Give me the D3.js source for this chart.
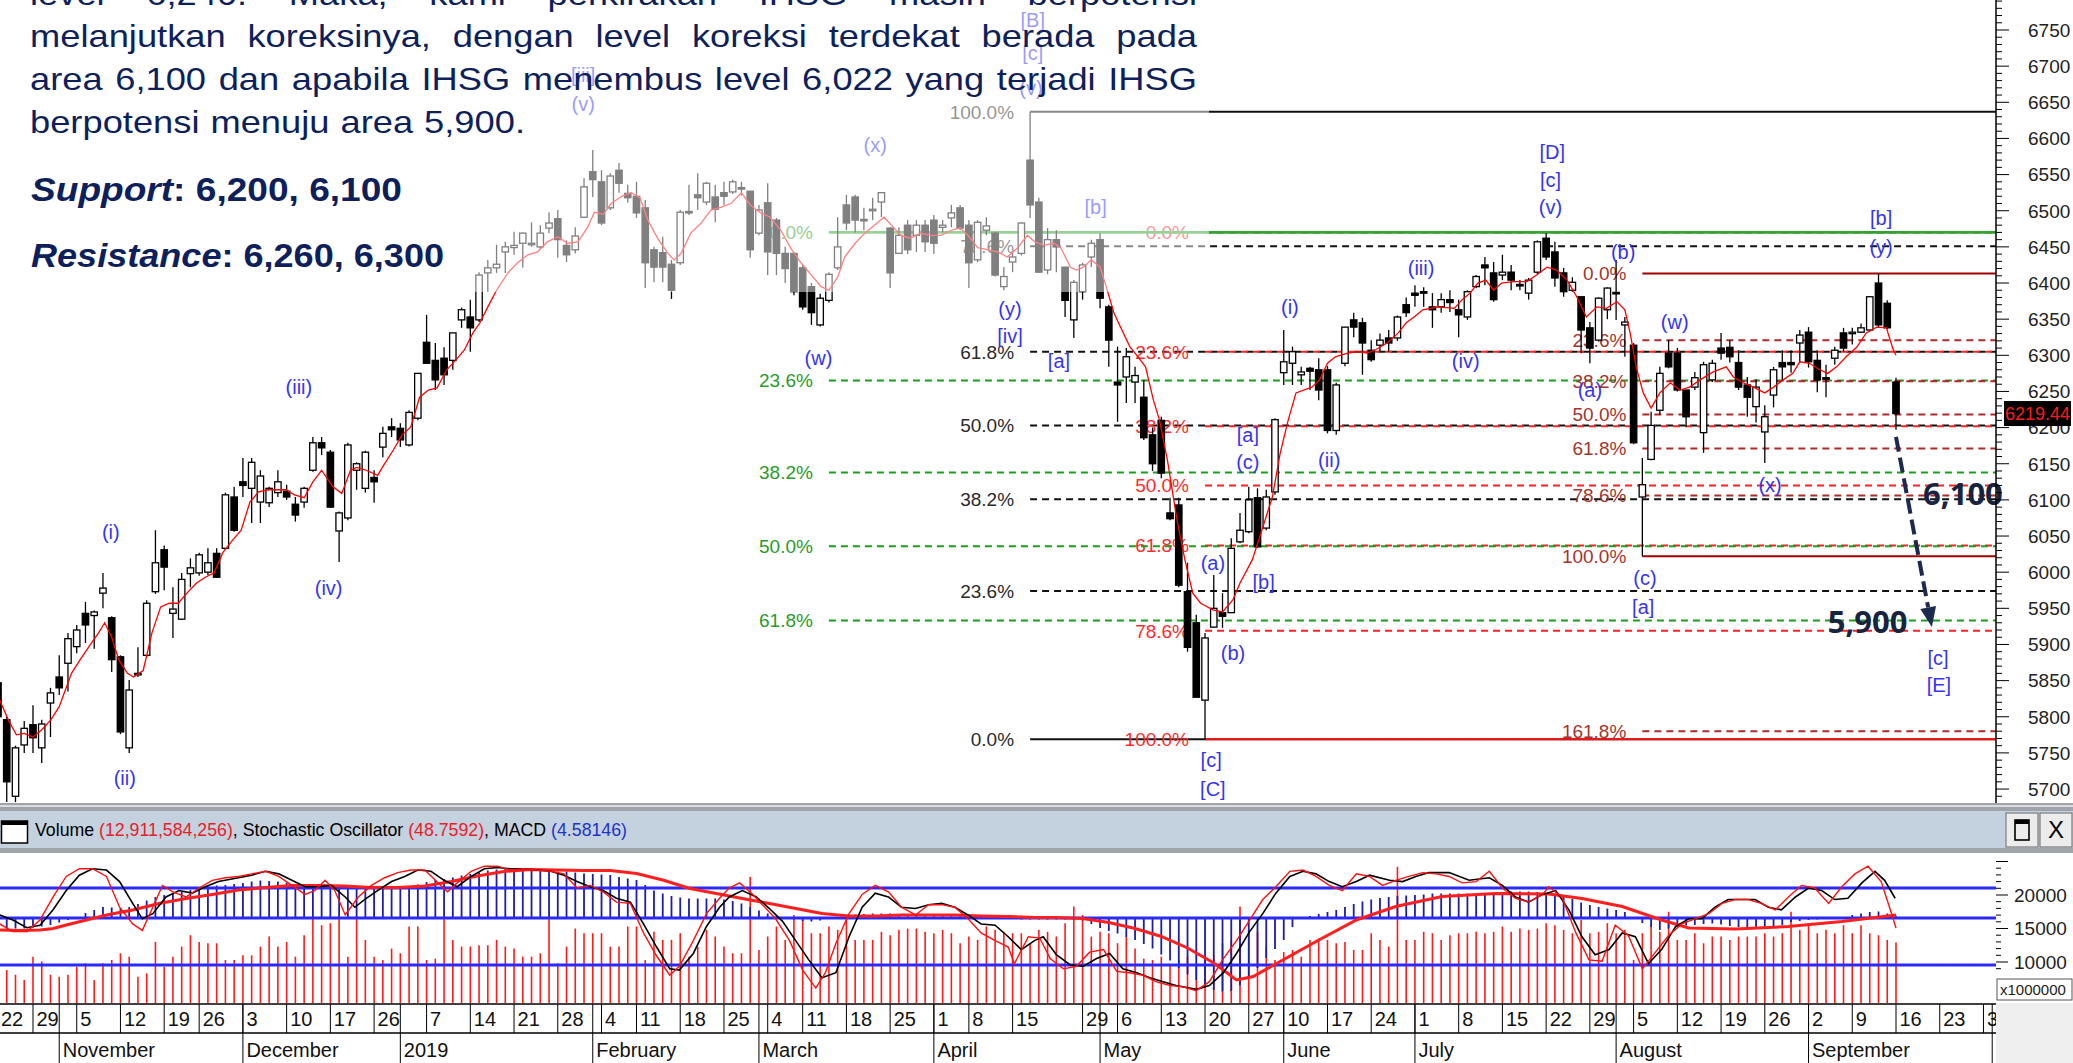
<!DOCTYPE html>
<html>
<head>
<meta charset="utf-8">
<script src="https://cdn.jsdelivr.net/npm/d3@7"></script>
<style>
  body { margin: 0; background: #fff; }
  svg { display: block; }
  text { font-family: "Liberation Sans", Arial, sans-serif; }
</style>
</head>
<body>
<svg id="chart"></svg>
<script>
// ---------- data ----------
// daily candles [open, high, low, close], 23 Oct 2018 .. 16 Sep 2019
const ohlc = [
[5847,5852,5790,5800],[5796,5800,5682,5710],[5690,5760,5682,5757],[5761,5794,5750,5784],[5789,5816,5750,5771],
[5757,5796,5736,5790],[5819,5840,5772,5833],[5855,5885,5830,5840],[5874,5916,5835,5908],[5897,5927,5888,5920],
[5943,5959,5902,5927],[5940,5947,5894,5945],[5971,5999,5950,5978],[5937,5939,5862,5879],[5883,5885,5776,5779],
[5757,5851,5750,5837],[5858,5896,5855,5860],[5885,5961,5883,5957],[5973,6058,5970,6013],[6031,6037,5975,6007],
[5943,5979,5909,5949],[5935,5999,5934,5990],[5998,6019,5979,6006],[5999,6027,5995,6024],[6000,6033,5996,6013],
[6026,6033,5992,5993],[6033,6110,6031,6107],[6104,6118,6056,6058],[6125,6158,6104,6120],[6116,6158,6068,6152],
[6097,6141,6068,6133],[6096,6118,6090,6116],[6110,6141,6104,6125],[6112,6121,6100,6104],[6094,6104,6070,6079],
[6097,6118,6089,6116],[6141,6187,6139,6179],[6179,6187,6162,6172],[6166,6169,6089,6090],[6057,6084,6014,6082],
[6075,6179,6072,6176],[6141,6152,6114,6150],[6116,6168,6110,6166],[6131,6141,6096,6125],[6173,6201,6159,6192],
[6201,6213,6187,6197],[6199,6206,6173,6183],[6176,6224,6174,6221],[6213,6275,6210,6275],[6318,6356,6289,6289],
[6293,6317,6252,6266],[6296,6311,6259,6273],[6293,6331,6280,6331],[6349,6366,6338,6363],[6353,6377,6305,6338],
[6349,6415,6346,6411],[6414,6432,6388,6421],[6421,6453,6414,6426],[6443,6457,6414,6450],[6449,6471,6439,6452],
[6455,6470,6421,6469],[6453,6484,6450,6455],[6450,6480,6447,6469],[6476,6498,6469,6483],[6489,6501,6435,6460],
[6452,6459,6429,6439],[6446,6477,6441,6465],[6491,6545,6490,6533],[6554,6584,6519,6543],[6540,6556,6480,6483],
[6504,6552,6501,6548],[6556,6566,6525,6538],[6524,6536,6511,6518],[6520,6540,6490,6497],[6504,6515,6393,6428],
[6446,6450,6401,6422],[6442,6464,6401,6422],[6426,6432,6378,6390],[6428,6501,6425,6498],[6499,6536,6494,6497],
[6522,6552,6501,6518],[6512,6540,6508,6538],[6519,6536,6484,6502],[6525,6540,6508,6520],[6526,6543,6523,6540],
[6532,6540,6521,6530],[6527,6527,6435,6446],[6469,6508,6466,6501],[6511,6538,6411,6443],[6487,6490,6411,6441],
[6441,6450,6400,6420],[6441,6443,6383,6388],[6421,6425,6363,6367],[6395,6400,6342,6359],[6342,6385,6340,6379],
[6376,6415,6373,6412],[6421,6491,6418,6450],[6508,6522,6473,6483],[6519,6522,6470,6487],[6488,6504,6473,6487],
[6500,6518,6487,6502],[6512,6526,6491,6525],[6476,6477,6393,6414],[6441,6477,6440,6466],[6480,6487,6440,6446],
[6466,6487,6443,6480],[6480,6487,6443,6457],[6487,6494,6440,6455],[6477,6487,6470,6480],[6490,6508,6477,6497],
[6504,6508,6473,6476],[6480,6487,6393,6428],[6432,6487,6429,6484],[6473,6491,6466,6479],[6469,6471,6409,6411],
[6395,6422,6390,6409],[6429,6442,6415,6436],[6441,6484,6438,6483],[6570,6637,6490,6508],[6512,6518,6414,6415],
[6418,6476,6412,6460],[6460,6473,6415,6450],[6422,6422,6353,6376],[6349,6404,6324,6401],[6388,6428,6377,6425],
[6436,6460,6422,6455],[6460,6469,6365,6379],[6367,6370,6284,6321],[6263,6312,6208,6259],[6270,6310,6234,6298],
[6263,6284,6234,6272],[6242,6266,6183,6186],[6190,6200,6140,6150],[6210,6215,6130,6137],[6082,6103,6072,6074],
[6093,6103,5979,5982],[5973,6013,5890,5896],[5930,5941,5827,5827],[5823,5916,5769,5909],[5924,5996,5923,5950],
[5944,5971,5923,5939],[5944,6047,5944,6033],[6042,6082,6040,6058],[6056,6118,6054,6100],[6103,6116,6034,6035],
[6061,6114,6058,6104],[6111,6213,6107,6211],[6276,6335,6259,6291],[6289,6312,6259,6305],[6273,6284,6259,6277],
[6282,6284,6252,6278],[6280,6296,6238,6252],[6280,6285,6192,6196],[6196,6262,6190,6259],[6289,6339,6285,6339],
[6349,6359,6325,6339],[6345,6352,6273,6317],[6307,6321,6291,6294],[6314,6330,6305,6321],[6324,6335,6305,6317],
[6324,6355,6320,6353],[6370,6380,6353,6359],[6386,6397,6367,6383],[6388,6394,6367,6387],[6367,6386,6338,6363],
[6367,6386,6359,6377],[6377,6390,6360,6373],[6363,6377,6325,6356],[6353,6390,6349,6388],[6395,6411,6393,6409],
[6425,6436,6397,6421],[6414,6429,6374,6377],[6411,6439,6404,6415],[6415,6425,6390,6404],[6398,6404,6390,6396],
[6386,6407,6377,6404],[6415,6459,6412,6457],[6462,6469,6432,6436],[6443,6457,6395,6407],[6414,6421,6381,6388],
[6390,6408,6388,6401],[6381,6381,6303,6335],[6338,6346,6289,6310],[6321,6380,6319,6379],[6363,6394,6350,6393],
[6387,6432,6349,6386],[6342,6353,6298,6346],[6314,6317,6177,6179],[6104,6158,6022,6121],[6156,6222,6155,6203],
[6224,6284,6218,6275],[6303,6321,6282,6284],[6303,6310,6250,6252],[6252,6252,6201,6215],[6256,6277,6252,6269],
[6193,6291,6165,6287],[6266,6294,6263,6289],[6310,6331,6294,6303],[6311,6321,6290,6298],[6290,6307,6252,6256],
[6259,6270,6215,6242],[6229,6267,6207,6256],[6194,6231,6151,6215],[6245,6284,6228,6280],[6290,6307,6264,6284],
[6290,6307,6276,6287],[6317,6335,6290,6328],[6332,6339,6283,6291],[6293,6307,6249,6266],[6269,6287,6242,6268],
[6296,6312,6287,6307],[6331,6338,6305,6310],[6330,6338,6315,6332],[6332,6344,6331,6338],[6335,6381,6333,6381],
[6400,6413,6339,6342],[6372,6376,6336,6338],[6263,6269,6197,6219.44]
];

// red moving average, [day index, value]
const maPts = [
[0.2,5823],[1.2,5795],[2.1,5775],[3,5777],[4,5772],[5,5782],[6,5795],[7,5814],[8.4,5860],[9.4,5879],[10.4,5897],
[11.5,5916],[12.2,5930],[13,5910],[13.8,5879],[14.8,5860],[15.5,5855],[16.6,5864],[17.6,5916],[18.6,5952],[19.6,5957],
[20.6,5957],[21.6,5971],[22.7,5985],[23.7,5993],[24.7,5999],[25.7,6027],[26.8,6044],[27.8,6058],[28.8,6097],[29.8,6111],
[30.9,6114],[31.9,6114],[32.9,6114],[33.9,6107],[35,6103],[36,6125],[37,6141],[38.3,6118],[39.3,6109],[40.3,6141],
[41,6145],[42.1,6141],[43.4,6134],[44.1,6148],[45.2,6169],[46.2,6190],[47.2,6201],[48.2,6242],[49.2,6252],[50.2,6255],
[51.3,6280],[52.3,6293],[53.3,6307],[54.3,6331],[55.1,6345],[56,6367],[57,6390],[58.3,6414],[59.4,6428],[60.6,6439],
[61.7,6443],[62.8,6457],[64,6464],[65.1,6455],[66.3,6457],[67.4,6477],[68.2,6498],[69.2,6495],[70.1,6510],[71.3,6520],
[72.4,6525],[73.4,6518],[74.3,6487],[75.5,6460],[76.6,6441],[77.3,6432],[78.1,6441],[79.2,6469],[80.4,6483],[81.5,6501],
[82.7,6505],[83.8,6510],[85,6525],[86,6508],[87.2,6497],[88.3,6491],[89.5,6473],[90.6,6449],[91.8,6428],[93,6411],
[94.1,6395],[95,6390],[96,6408],[96.8,6436],[98,6455],[99.1,6469],[100.2,6480],[101.3,6491],[102.3,6478],[103.2,6466],
[104.3,6462],[105.5,6469],[106.6,6466],[107.8,6466],[109,6473],[110,6476],[110.9,6466],[112,6449],[113.2,6446],
[114.3,6443],[115.4,6436],[116.6,6449],[117.7,6466],[118.5,6457],[119.6,6452],[120.7,6455],[121.5,6449],[122.6,6422],
[123.3,6418],[124.1,6422],[125,6432],[126,6422],[126.7,6395],[127.6,6358],[128.5,6335],[129.4,6312],[130.2,6300],
[131.2,6284],[132.1,6238],[132.8,6210],[133.7,6155],[134.8,6072],[135.7,6017],[136.6,5971],[137.5,5957],[138.9,5948],
[140,5945],[141.2,5962],[142,5985],[143.4,6017],[144.5,6058],[145.7,6104],[146.6,6165],[147.5,6210],[148.4,6248],
[150.2,6256],[151.1,6266],[152,6289],[152.9,6298],[154.3,6303],[155.6,6305],[156.5,6303],[157.4,6307],[158.8,6317],
[160.1,6331],[161,6345],[161.9,6353],[162.9,6363],[164.6,6367],[166.5,6365],[167.4,6377],[168.3,6386],[169.2,6400],
[170.1,6404],[171,6390],[171.9,6400],[173.3,6402],[174.8,6402],[175.9,6411],[177.1,6422],[178.2,6418],[179.4,6404],
[180.5,6381],[181.6,6353],[182.8,6367],[183.9,6365],[185.1,6374],[186,6363],[186.6,6331],[187.3,6284],[188.1,6248],
[189,6227],[190,6248],[191.2,6262],[192.3,6252],[193.4,6256],[194.6,6266],[196.1,6277],[197.6,6284],[198.4,6270],
[199.5,6262],[200.7,6256],[202,6248],[203,6256],[204.1,6266],[205.2,6275],[206,6291],[207.1,6289],[208.3,6280],
[209.2,6275],[210.2,6284],[211.3,6298],[212.5,6311],[213.6,6331],[214.8,6339],[215.9,6338],[216.7,6307],[217,6300]
];

// volume, millions of shares
const volume = [
8100,8800,8100,7300,10800,10100,8100,7800,8100,9300, 9800,7300,9800,10300,11300,10800,7800,8300,13000,9300,
10800,12300,14000,13000,12800,12800,10300,10300,11000,11000, 12300,13800,12300,13000,10800,14000,16500,15500,15800,16500,
10800,16800,13300,10800,10300,12000,11300,15300,15300,10300, 10500,16500,13300,12300,12300,12500,12500,13300,12300,12000,
10800,10800,11300,16800,9800,12300,15000,14300,14300,14300, 12300,12300,15300,15300,10300,14500,13300,13300,14300,10800,
12300,14800,13800,12300,11300,11300,22700,11800,13800,15300, 13300,17000,16300,14300,14300,15300,14800,16800,13300,13300,
13300,14500,14000,14800,15000,15000,14500,14300,14800,14300, 12800,13800,13300,15300,14800,14500,14300,
14300,12800,14800,14500,13800,15800,18300,17000,13800,14500, 14300,12800,13800,12000,10500,10300,10800,9600,10300,10800,
9800,10800,11000,12800,13300,18300,14800,14500,12300,10300, 11500,11800,10800,13300,13500,13300,12800,13000,11800,11800,
14300,13300,12300,24200,13300,13300,14500,14300,13300,14000, 14300,14300,14500,14300,14500,15300,14500,15000,14800,15000,
15800,15500,14800,14300,16300,14300,14500,15800,14300,14800, 10300,14300,15500,14500,17500,13300,13300,14300,12800,13800,
13800,13300,13800,13800,13800,14300,13800,14300,17500,14800, 15800,14300,14800,14300,15500,14300,15500,14300,14000,13300,12900
];

// MACD histogram (blue bars)
const macd = [
-21,-21,-21,-21,-19,-17,-14,-9,-4,2, 10,16,22,21,19,22,28,35,42,46, 49,52,56,59,63,65,66,68,70,73,
75,74,73,71,68,66,64,63,61,59, 60,61,61,61,61,62,63,64,67,72, 76,78,81,85,88,91,95,97,98,99,
98,96,95,94,93,93,91,89,88,87, 86,82,79,76,66,55,49,44,41,39, 39,39,39,37,34,29,22,15,9,5,
1,-3,-6,-7,-5,-2,1,5,7,8, 9,9,9,8,7,6,6,6,7,7, 6,5,3,2,1,-1,-2,-3,-3,-3,
-3,-3,-3,-4,-5,-12,-20,-26,-31,-38, -44,-52,-61,-73,-85,-100,-113,-124,-136,-144, -147,-146,-135,-117,-100,-80,-62,-44,-18,-2,
4,8,12,16,22,28,33,37,40,42, 44,45,46,47,49,49,49,49,49,49, 50,50,51,53,53,53,52,50,49,45,
38,31,26,22,19,16,12,2,-10,-18, -24,-21,-18,-15,-14,-12,-11,-13,-16,-18, -20,-21,-19,-17,-14,-8,-6,-4,-3,-2,
-1,2,6,9,12,13,9,4.58
];

// MACD signal (thick red), [day index, value]
const signalPts = [
[0.2,-24],[2.5,-25],[4.8,-24],[6.3,-21],[7.8,-14],[10.1,-4],[12.4,6],[15.4,16],[18.4,29],[21.5,39],[24.5,47],[27.5,56],
[30.6,61],[33.6,65],[36.6,65],[39.6,64],[42.7,61],[45.7,61],[48.8,64],[51.8,73],[54.8,84],[57.8,93],[60.9,97],[63.9,96],
[66.9,95],[70,95],[73,89],[76,76],[79.1,59],[82.1,49],[85.1,39],[88.2,29],[91.2,19],[94.2,9],[97.3,4],[100.3,4],
[103.3,6],[106.4,6],[109.4,6],[112.4,4],[115.5,3],[118.5,1],[121,1],[124,-1],[127,-9],[130,-21],[133,-37],[136,-60],
[139,-90],[141.6,-124],[143.5,-117],[146.9,-84],[150.7,-47],[155.3,-4],[159.8,23],[165.1,43],[171.2,49],[177.3,48],
[181.1,39],[185.7,23],[190.2,-4],[193.3,-20],[198.6,-22],[204.7,-17],[210.8,-7],[217,6]
];

// stochastic %K (thin red) and %D (black), [day index, value]
const stochK = [
[0.2,52],[1.7,46],[3.3,46],[4.8,55],[6.3,73],[7.8,89],[9.3,95],[10.8,95],[12.4,89],[13.9,65],[15.4,52],[16.5,47],
[17.7,65],[18.8,82],[20,77],[21.5,73],[23,80],[24.5,86],[26,88],[27.5,89],[29,91],[30.6,93],[32.1,89],[33.6,82],
[35.1,75],[36.2,78],[37.4,86],[38.5,78],[39.7,59],[41.2,73],[42.7,82],[44.2,88],[45.7,92],[47.2,94],[48.8,94],
[50.3,84],[51.4,77],[52.5,84],[54.1,93],[55.6,97],[57.1,97],[58.6,94],[60.1,95],[61.6,94],[63.2,93],[64.7,91],
[66.2,80],[67.7,82],[69.2,77],[70.7,69],[72.3,68],[73.8,45],[75.3,27],[76.8,12],[77.9,19],[79.5,39],[81,60],
[82.5,72],[83.6,80],[84.8,84],[86.3,75],[87.4,67],[88.9,56],[90.5,39],[92,16],[93.5,2],[94.6,14],[95.8,37],
[97.3,60],[98.8,75],[100.3,82],[101.8,77],[103.3,65],[104.9,59],[106.4,67],[107.9,67],[109.4,65],[110.9,56],
[112.4,45],[114,39],[115.5,34],[116.2,21],[117.8,42],[119.1,41],[120.3,25],[121.8,17],[123.3,19],[124.8,30],
[126.4,32],[127.9,15],[129.4,14],[130.9,12],[132.4,7],[134,4],[135.5,3],[137,0],[138.5,7],[140.1,25],[141.6,39],
[143.1,55],[144.6,71],[146.1,81],[147.7,93],[149.2,94],[150.7,89],[152.2,82],[153.7,78],[155.3,91],[156.8,89],
[158.3,82],[159.8,86],[161.3,89],[162.9,92],[164.4,91],[165.9,89],[167.4,84],[169,85],[170.5,93],[172,80],
[173.5,72],[175,69],[176.6,75],[177.3,81],[178.8,73],[180.4,45],[181.9,24],[183.4,23],[184.9,51],[186.4,43],
[188,17],[189.5,30],[191,43],[192.5,52],[194,56],[195.6,60],[197.1,68],[198.6,71],[200.1,71],[201.6,68],
[203.2,63],[204.7,73],[206.2,82],[207.7,80],[209.3,68],[210.8,81],[212.3,91],[213.8,97],[215.3,85],[216.5,60],[217,48.76]
];
const stochD = [
[0.2,59],[1.7,55],[3.3,49],[4.8,51],[6.3,63],[7.8,78],[9.3,90],[10.8,95],[12.4,94],[13.9,85],[15.4,68],[16.5,56],
[17.7,60],[19.2,73],[20.7,78],[22.2,76],[23.7,81],[25.2,85],[27.5,88],[29,90],[30.6,93],[32.1,91],[33.6,86],
[35.1,81],[36.6,81],[38.1,82],[39.7,73],[40.8,65],[41.9,71],[43.4,78],[45,85],[46.5,89],[48,94],[49.5,93],[51,86],
[52.5,81],[54.1,89],[55.6,95],[57.1,96],[58.6,95],[60.1,95],[61.6,94],[63.2,93],[64.7,90],[66.2,85],[67.7,81],
[69.2,78],[70.7,72],[72.3,69],[73.8,52],[75.3,34],[76.8,17],[77.9,16],[79.5,29],[81,50],[82.5,65],[83.6,73],
[85.1,78],[86.7,73],[88.2,64],[89.7,54],[91.2,39],[92.7,24],[94.2,10],[95.8,14],[97.3,42],[98.8,65],[100.3,76],
[101.8,73],[103.3,65],[104.9,64],[106.4,67],[107.9,68],[109.4,65],[110.9,59],[112.4,52],[114,51],[115.5,42],
[117,32],[118.5,39],[119.5,42],[121,28],[122.6,20],[124.1,19],[125.6,25],[127.1,29],[128.6,17],[130.2,14],
[131.7,10],[133.2,7],[134.7,4],[137,1],[138.5,4],[140.1,14],[141.6,29],[143.1,46],[144.6,60],[146.1,76],[147.7,89],
[149.2,93],[150.7,91],[152.2,85],[153.7,81],[155.3,85],[156.8,90],[159.1,86],[160.6,85],[162.1,89],[163.6,92],
[165.9,92],[168.2,86],[170.5,88],[172,82],[173.5,73],[175,69],[176.6,75],[178.1,78],[179.6,63],[181.1,42],
[182.6,28],[184.2,32],[185.7,45],[187.2,42],[188.7,21],[190.2,32],[191.8,50],[193.3,56],[194.8,56],[196.3,65],
[197.8,71],[199.4,71],[200.9,71],[202.4,65],[203.9,63],[205.5,73],[207,80],[208.5,78],[210,71],[211.5,72],
[213.1,84],[214.6,93],[215.7,86],[216.9,72]
];

// fibonacci levels (prices) and where each set starts (day index)
const fibPct   = ["0.0%","23.6%","38.2%","50.0%","61.8%","78.6%","100.0%"];
const fibA     = [5769, 5974, 6101, 6203, 6305, 6451, 6637];   // from the 18 Apr top
const fibB     = [6470, 6305, 6202, 6120, 6037, 5919, 5769];   // from the 20 May low
const fibCPct  = ["0.0%","23.6%","38.2%","50.0%","61.8%"];
const fibC     = [6470, 6265, 6138, 6036, 5933];
const fibDPct  = ["0.0%","23.6%","38.2%","50.0%","61.8%","78.6%","100.0%","161.8%"];
const fibD     = [6413, 6321, 6264, 6218, 6171, 6106, 6022, 5780];
const fibStart = { A: 118, B: 138, C: 95, D: 188 };

// elliott wave labels [text, day index, price]
const waves = [
["[iii]",66.9,6688],["(v)",66.9,6648],["(x)",100.3,6591],["[B]",118.3,6764],["[c]",118.3,6718],["(v)",118.1,6670],
["[b]",125.5,6505],["(i)",12.9,6056],["(ii)",14.5,5715],["(iii)",34.4,6256],["(iv)",37.8,5979],["(w)",93.8,6296],
["(y)",115.7,6365],["[iv]",115.7,6327],["[a]",121.3,6293],["[a]",142.9,6190],["(c)",142.9,6152],["(a)",138.9,6013],
["[b]",144.7,5986],["(b)",141.2,5888],["[c]",138.7,5740],["[C]",138.9,5701],["(i)",147.7,6367],["(ii)",152.2,6155],
["(iii)",162.7,6421],["(iv)",167.8,6293],["[D]",177.7,6581],["[c]",177.5,6543],["(v)",177.5,6505],["(b)",185.8,6443],
["(a)",182,6252],["(w)",191.7,6346],["[b]",215.3,6490],["(y)",215.3,6450],["(x)",202.6,6121],["(c)",188.3,5992],
["[a]",188.1,5952],["[c]",221.8,5881],["[E]",221.9,5844]
];

const priceTicks = [5700,5750,5800,5850,5900,5950,6000,6050,6100,6150,6200,6250,6300,6350,6400,6450,6500,6550,6600,6650,6700,6750];
const volTicks = [10000, 15000, 20000];
const weekTicks = [[-1,"22"],[4,"29"],[9,"5"],[14,"12"],[19,"19"],[23,"26"],[28,"3"],[33,"10"],[38,"17"],[43,"26"],
  [49,"7"],[54,"14"],[59,"21"],[64,"28"],[69,"4"],[73,"11"],[78,"18"],[83,"25"],[88,"4"],[92,"11"],[97,"18"],[102,"25"],
  [107,"1"],[111,"8"],[116,"15"],[124,"29"],[128,"6"],[133,"13"],[138,"20"],[143,"27"],[147,"10"],[152,"17"],[157,"24"],
  [162,"1"],[167,"8"],[172,"15"],[177,"22"],[182,"29"],[187,"5"],[192,"12"],[197,"19"],[202,"26"],[207,"2"],[212,"9"],
  [217,"16"],[222,"23"],[227,"30"]];
const monthTicks = [[7,"November"],[28,"December"],[46,"2019"],[68,"February"],[87,"March"],[107,"April"],[126,"May"],
  [147,"June"],[162,"July"],[185,"August"],[207,"September"],[228,"October"]];

const lastClose = 6219.44;
const arrowPts = [[217, 6187], [221.1, 5924]];
const notes = [["6,100", 220.1, 6093], ["5,900", 209.2, 5916]];

const para = [
  "level 6,240. Maka, kami perkirakan IHSG masih berpotensi",
  "melanjutkan koreksinya, dengan level koreksi terdekat berada pada",
  "area 6,100 dan apabila IHSG menembus level 6,022 yang terjadi IHSG",
  "berpotensi menuju area 5,900."
];

// ---------- layout ----------
const W = 2073, H = 1063, AX = 1996, PB = 803;
const svg = d3.select("#chart").attr("width", W).attr("height", H);
svg.append("rect").attr("width", W).attr("height", H).attr("fill", "#fff");

const x = d3.scaleLinear().domain([0, 217]).range([-2, 1896]);
const y = d3.scaleLinear().domain([5680.7, 6791.5]).range([PB, 0]);

const defs = svg.append("defs");
defs.append("clipPath").attr("id", "clipMain").append("rect").attr("width", AX).attr("height", PB);
defs.append("clipPath").attr("id", "clipLow").append("rect").attr("y", 853).attr("width", AX).attr("height", 150);
defs.append("clipPath").attr("id", "clipDate").append("rect").attr("y", 1003).attr("width", AX).attr("height", 60);

const main = svg.append("g").attr("clip-path", "url(#clipMain)");

// fibonacci sets
function fibSet(pcts, prices, from, dashColor, labelColor, solid, solidColor) {
  const g = main.append("g");
  prices.forEach((p, k) => {
    const isSolid = solid.includes(k);
    g.append("line")
      .attr("x1", x(from)).attr("x2", AX).attr("y1", y(p)).attr("y2", y(p))
      .attr("stroke", isSolid ? solidColor : dashColor)
      .attr("stroke-width", isSolid && solidColor === "#2ea52e" ? 2.6 : 2)
      .attr("stroke-dasharray", isSolid ? null : "7,5");
    g.append("text")
      .attr("x", x(from) - 16).attr("y", y(p)).attr("dy", "0.36em")
      .attr("text-anchor", "end").attr("font-size", 19).attr("fill", labelColor)
      .text(pcts[k]);
  });
}
fibSet(fibPct, fibA, fibStart.A, "#111", "#2a2a2a", [0, 6], "#111");
fibSet(fibPct, fibB, fibStart.B, "#ff2020", "#ff2a2a", [6], "#ff1010");
fibSet(fibCPct, fibC, fibStart.C, "#19a019", "#2a9a2a", [0], "#2ea52e");
fibSet(fibDPct, fibD, fibStart.D, "#b02a2a", "#a5332e", [0, 6], "#a00000");

// candles
const cg = main.append("g").selectAll("g").data(ohlc).join("g");
cg.append("line")
  .attr("x1", (d, i) => x(i)).attr("x2", (d, i) => x(i))
  .attr("y1", d => y(d[1])).attr("y2", d => y(d[2]))
  .attr("stroke", "#000").attr("stroke-width", 1.3);
cg.append("rect")
  .attr("x", (d, i) => x(i) - 3.2).attr("width", 6.4)
  .attr("y", d => y(Math.max(d[0], d[3])))
  .attr("height", d => Math.max(1.5, Math.abs(y(d[0]) - y(d[3]))))
  .attr("fill", d => d[3] >= d[0] ? "#fff" : "#000")
  .attr("stroke", "#000").attr("stroke-width", 1.3);

// moving average
main.append("path").datum(maPts)
  .attr("d", d3.line().x(d => x(d[0])).y(d => y(d[1])))
  .attr("fill", "none").attr("stroke", "#ff0000").attr("stroke-width", 1.3);

// wave labels
main.append("g").selectAll("text").data(waves).join("text")
  .attr("x", d => x(d[1])).attr("y", d => y(d[2])).attr("dy", "0.36em")
  .attr("text-anchor", "middle").attr("font-size", 20).attr("fill", "#3434f2")
  .text(d => d[0]);

// semi-transparent text box over the top left
svg.append("rect").attr("width", 1209).attr("height", 292).attr("fill", "#fff").attr("opacity", 0.5);

const tb = svg.append("g").attr("fill", "#0e1f5c")
  .style("font-family", "'Open Sans','Noto Sans',sans-serif");
function natural(str, size, weight) {
  const t = tb.append("text").attr("font-size", size).attr("font-weight", weight).text(str);
  const w = t.node().getComputedTextLength();
  t.remove();
  return w;
}
const baselines = [5, 47, 90, 133];
const lastGap = 11;
const lastWords = para[3].split(" ");
const k = (495 - lastGap * (lastWords.length - 1)) / d3.sum(lastWords, w => natural(w, 32, 400));
para.forEach((line, li) => {
  const words = line.split(" ");
  const widths = words.map(w => natural(w, 32, 400) * k);
  const gap = li < 3 ? (1167 - d3.sum(widths)) / (words.length - 1) : lastGap;
  let cx = 30;
  words.forEach((w, wi) => {
    tb.append("text").attr("x", cx).attr("y", baselines[li]).attr("font-size", 32)
      .attr("textLength", widths[wi]).attr("lengthAdjust", "spacingAndGlyphs").text(w);
    cx += widths[wi] + gap;
  });
});
function levelLine(label, rest, yy, len) {
  const t = tb.append("text").attr("x", 31).attr("y", yy).attr("font-size", 34).attr("font-weight", 700)
    .attr("textLength", len).attr("lengthAdjust", "spacingAndGlyphs");
  t.append("tspan").attr("font-style", "italic").text(label);
  t.append("tspan").text(rest);
}
levelLine("Support", ": 6,200, 6,100", 201, 371);
levelLine("Resistance", ": 6,260, 6,300", 267, 413);

// projection arrow
const [a0, a1] = arrowPts.map(p => [x(p[0]), y(p[1])]);
const ang = Math.atan2(a1[1] - a0[1], a1[0] - a0[0]);
const headL = 20, headW = 8;
const base = [a1[0] - headL * Math.cos(ang), a1[1] - headL * Math.sin(ang)];
svg.append("line").attr("x1", a0[0]).attr("y1", a0[1]).attr("x2", base[0]).attr("y2", base[1])
  .attr("stroke", "#1b2a4e").attr("stroke-width", 4).attr("stroke-dasharray", "15,6");
svg.append("polygon")
  .attr("points", [a1,
    [base[0] + headW * Math.sin(ang), base[1] - headW * Math.cos(ang)],
    [base[0] - headW * Math.sin(ang), base[1] + headW * Math.cos(ang)]].map(p => p.join(",")).join(" "))
  .attr("fill", "#1b2a4e");

svg.append("g").selectAll("text").data(notes).join("text")
  .attr("x", d => x(d[1])).attr("y", d => y(d[2]))
  .attr("font-size", 31).attr("font-weight", 700).attr("fill", "#18233f")
  .style("font-family", "'Open Sans','Noto Sans',sans-serif")
  .text(d => d[0]);

// price axis
const pax = svg.append("g");
pax.append("line").attr("x1", AX).attr("x2", AX).attr("y1", 0).attr("y2", 1003).attr("stroke", "#000").attr("stroke-width", 1.5);
d3.range(5690, 6791, 10).forEach(v => {
  const major = v % 50 === 0;
  pax.append("line").attr("x1", AX).attr("x2", AX + (major ? 13 : 6))
    .attr("y1", y(v)).attr("y2", y(v)).attr("stroke", "#000").attr("stroke-width", 1);
});
pax.selectAll("text").data(priceTicks).join("text")
  .attr("x", 2028).attr("y", d => y(d)).attr("dy", "0.36em")
  .attr("font-size", 19).attr("fill", "#222").text(d => d);

// last price tag
pax.append("rect").attr("x", 2004).attr("y", y(lastClose) - 12.5).attr("width", 67).attr("height", 25).attr("fill", "#000");
pax.append("text").attr("x", 2037.5).attr("y", y(lastClose)).attr("dy", "0.36em").attr("text-anchor", "middle")
  .attr("font-size", 18).attr("fill", "#ff1a1a").text(d3.format(".2f")(lastClose));

// ---------- lower panel ----------
svg.append("rect").attr("y", 803).attr("width", W).attr("height", 50).attr("fill", "#9ea4aa");
svg.append("rect").attr("y", 805).attr("width", W).attr("height", 2).attr("fill", "#d8dce0");
svg.append("rect").attr("y", 811).attr("width", W).attr("height", 37).attr("fill", "#c4d1de");
svg.append("rect").attr("y", 853).attr("width", W).attr("height", 150).attr("fill", "#fff");

// header icon, title and buttons
svg.append("rect").attr("x", 1.5).attr("y", 821).attr("width", 26).attr("height", 22).attr("fill", "#fff").attr("stroke", "#000").attr("stroke-width", 1.5);
svg.append("rect").attr("x", 1.5).attr("y", 821).attr("width", 26).attr("height", 4).attr("fill", "#000");
const ht = svg.append("text").attr("x", 35).attr("y", 836).attr("font-size", 19)
  .attr("textLength", 592).attr("lengthAdjust", "spacingAndGlyphs");
[["Volume ", "#000"], ["(12,911,584,256)", "#e8202a"], [", Stochastic Oscillator ", "#000"], ["(48.7592)", "#e8202a"],
 [", MACD ", "#000"], ["(4.58146)", "#2233c8"]].forEach(s => ht.append("tspan").attr("fill", s[1]).text(s[0]));
[[2006, "box"], [2040, "X"]].forEach(b => {
  svg.append("rect").attr("x", b[0]).attr("y", 813).attr("width", 32).attr("height", 34)
    .attr("fill", "#ececec").attr("stroke", "#7d7d7d").attr("stroke-width", 1.2);
  if (b[1] === "box") {
    svg.append("rect").attr("x", b[0] + 9).attr("y", 820).attr("width", 14).attr("height", 20)
      .attr("fill", "none").attr("stroke", "#000").attr("stroke-width", 1.6);
    svg.append("rect").attr("x", b[0] + 9).attr("y", 820).attr("width", 14).attr("height", 4).attr("fill", "#000");
  } else {
    svg.append("text").attr("x", b[0] + 16).attr("y", 838).attr("text-anchor", "middle")
      .attr("font-size", 24).attr("fill", "#000").text("X");
  }
});

const yv = d3.scaleLinear().domain([10000, 20000]).range([962, 895]);
const ys = d3.scaleLinear().domain([20, 80]).range([965, 888]);
const ym = d3.scaleLinear().domain([0, 100]).range([918, 868]);

const low = svg.append("g").attr("clip-path", "url(#clipLow)");
low.append("g").selectAll("line").data(volume).join("line")
  .attr("x1", (d, i) => x(i)).attr("x2", (d, i) => x(i))
  .attr("y1", 1003).attr("y2", d => yv(d))
  .attr("stroke", "#ff1a1a").attr("stroke-width", 1.6);
low.append("g").selectAll("line").data(macd).join("line")
  .attr("x1", (d, i) => x(i)).attr("x2", (d, i) => x(i))
  .attr("y1", ym(0)).attr("y2", d => ym(d))
  .attr("stroke", "#1d1da6").attr("stroke-width", 1.8);
[ys(80), ym(0), ys(20)].forEach(yy => {
  low.append("line").attr("x1", 0).attr("x2", AX).attr("y1", yy).attr("y2", yy)
    .attr("stroke", "#2a2aff").attr("stroke-width", 3);
});
low.append("path").datum(signalPts)
  .attr("d", d3.line().x(d => x(d[0])).y(d => ym(d[1])))
  .attr("fill", "none").attr("stroke", "#ff1f1f").attr("stroke-width", 3);
low.append("path").datum(stochD)
  .attr("d", d3.line().x(d => x(d[0])).y(d => ys(d[1])))
  .attr("fill", "none").attr("stroke", "#000").attr("stroke-width", 1.6);
low.append("path").datum(stochK)
  .attr("d", d3.line().x(d => x(d[0])).y(d => ys(d[1])))
  .attr("fill", "none").attr("stroke", "#ff1010").attr("stroke-width", 1.4);

// lower axis
const lax = svg.append("g");
d3.range(6000, 26001, 1000).forEach(v => {
  const yy = yv(v);
  if (yy < 856 || yy > 975) return;
  lax.append("line").attr("x1", AX).attr("x2", AX + (v % 5000 === 0 ? 12 : 5))
    .attr("y1", yy).attr("y2", yy).attr("stroke", "#000");
});
lax.selectAll("text").data(volTicks).join("text")
  .attr("x", 2014).attr("y", d => yv(d)).attr("dy", "0.36em")
  .attr("font-size", 19).attr("fill", "#222").text(d => d);
lax.append("rect").attr("x", 1997).attr("y", 979).attr("width", 75).attr("height", 21)
  .attr("fill", "#fff").attr("stroke", "#555");
lax.append("text").attr("x", 2000).attr("y", 995).attr("font-size", 15).attr("fill", "#222").text("x1000000");

// ---------- date axis ----------
svg.append("rect").attr("x", AX).attr("y", 1003).attr("width", W - AX).attr("height", 60).attr("fill", "#efefef");
const dax = svg.append("g").attr("clip-path", "url(#clipDate)");
dax.append("rect").attr("y", 1003).attr("width", AX).attr("height", 60).attr("fill", "#fff");
dax.append("line").attr("x1", 0).attr("x2", AX).attr("y1", 1004).attr("y2", 1004).attr("stroke", "#000").attr("stroke-width", 1.5);
dax.append("line").attr("x1", 0).attr("x2", AX).attr("y1", 1033).attr("y2", 1033).attr("stroke", "#000").attr("stroke-width", 1.5);
weekTicks.forEach(t => {
  dax.append("line").attr("x1", x(t[0])).attr("x2", x(t[0])).attr("y1", 1004).attr("y2", 1033).attr("stroke", "#000");
  dax.append("text").attr("x", Math.max(1, x(t[0]) + 3.5)).attr("y", 1026).attr("font-size", 20).attr("fill", "#111").text(t[1]);
});
monthTicks.forEach(t => {
  dax.append("line").attr("x1", x(t[0])).attr("x2", x(t[0])).attr("y1", 1004).attr("y2", 1063).attr("stroke", "#000");
  dax.append("text").attr("x", x(t[0]) + 3.5).attr("y", 1057).attr("font-size", 20).attr("fill", "#111").text(t[1]);
});
</script>
</body>
</html>
